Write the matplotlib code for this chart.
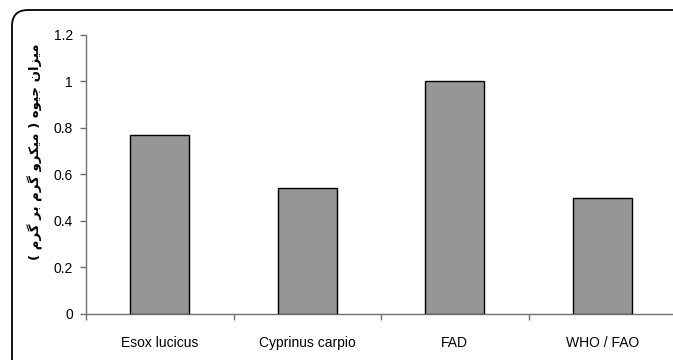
import matplotlib
matplotlib.use('Agg')
import matplotlib.pyplot as plt
from matplotlib.patches import FancyBboxPatch

# data
categories = ['Esox lucicus', 'Cyprinus carpio', 'FAD', 'WHO / FAO']
values = [0.77, 0.54, 1.0, 0.5]
y_ticks = [0, 0.2, 0.4, 0.6, 0.8, 1, 1.2]
y_tick_labels = ['0', '0.2', '0.4', '0.6', '0.8', '1', '1.2']

# y label "میزان جیوه ( میکرو گرم بر گرم )" written in visual order with
# arabic presentation forms, since matplotlib does no shaping / bidi
gram = '\uFEE1\uFEAE\uFB94'
bar = '\uFEAE\uFE91'
mikro = '\uFEED\uFEAE\uFB91\uFBFF\uFEE3'
jive = '\uFEE9\uFEEE\uFBFF\uFE9F'
mizan = '\uFEE5\uFE8D\uFEB0\uFBFF\uFEE3'
y_label = '( ' + gram + ' ' + bar + ' ' + gram + ' ' + mikro + ' ) ' + jive + ' ' + mizan

plt.rcParams['font.family'] = ['Liberation Sans', 'DejaVu Sans']

fig = plt.figure(figsize=(6.73, 3.6), dpi=100)

# rounded frame around the chart (runs off the right and bottom edge)
frame = FancyBboxPatch((0.12, -0.3), 7.0, 3.8,
                       boxstyle='round,pad=0,rounding_size=0.16',
                       transform=fig.dpi_scale_trans,
                       facecolor='none', edgecolor='black', linewidth=1.3)
fig.patches.append(frame)

ax = fig.add_axes([86 / 673, (360 - 313.7) / 360, 590 / 673, (313.7 - 35) / 360])

x = range(len(categories))
ax.bar(x, values, width=0.4, color='#969696', edgecolor='black', linewidth=1.0, zorder=3)

ax.set_xlim(-0.5, len(categories) - 0.5)
ax.set_ylim(0, 1.2)

for side in ['top', 'right']:
    ax.spines[side].set_visible(False)
for side in ['left', 'bottom']:
    ax.spines[side].set_color('#707070')
    ax.spines[side].set_linewidth(1.0)

ax.set_yticks(y_ticks)
ax.set_yticklabels(y_tick_labels)
ax.tick_params(axis='y', direction='out', length=4.5, width=1.0, color='#707070',
               pad=5, labelsize=10)

# major x ticks on category borders, labels on minor ticks at centers
ax.set_xticks([i - 0.5 for i in range(len(categories))])
ax.set_xticklabels([])
ax.set_xticks(list(x), minor=True)
ax.set_xticklabels(categories, minor=True)
ax.tick_params(axis='x', which='major', direction='out', length=4.5, width=1.0, color='#707070')
ax.tick_params(axis='x', which='minor', length=0, pad=16, labelsize=10)

fig.text(35 / 673, 1 - 152 / 360, y_label, rotation=90, ha='center', va='center',
         fontsize=9.5, fontweight='bold', family=['DejaVu Sans'])

fig.savefig('out.png', dpi=100)
